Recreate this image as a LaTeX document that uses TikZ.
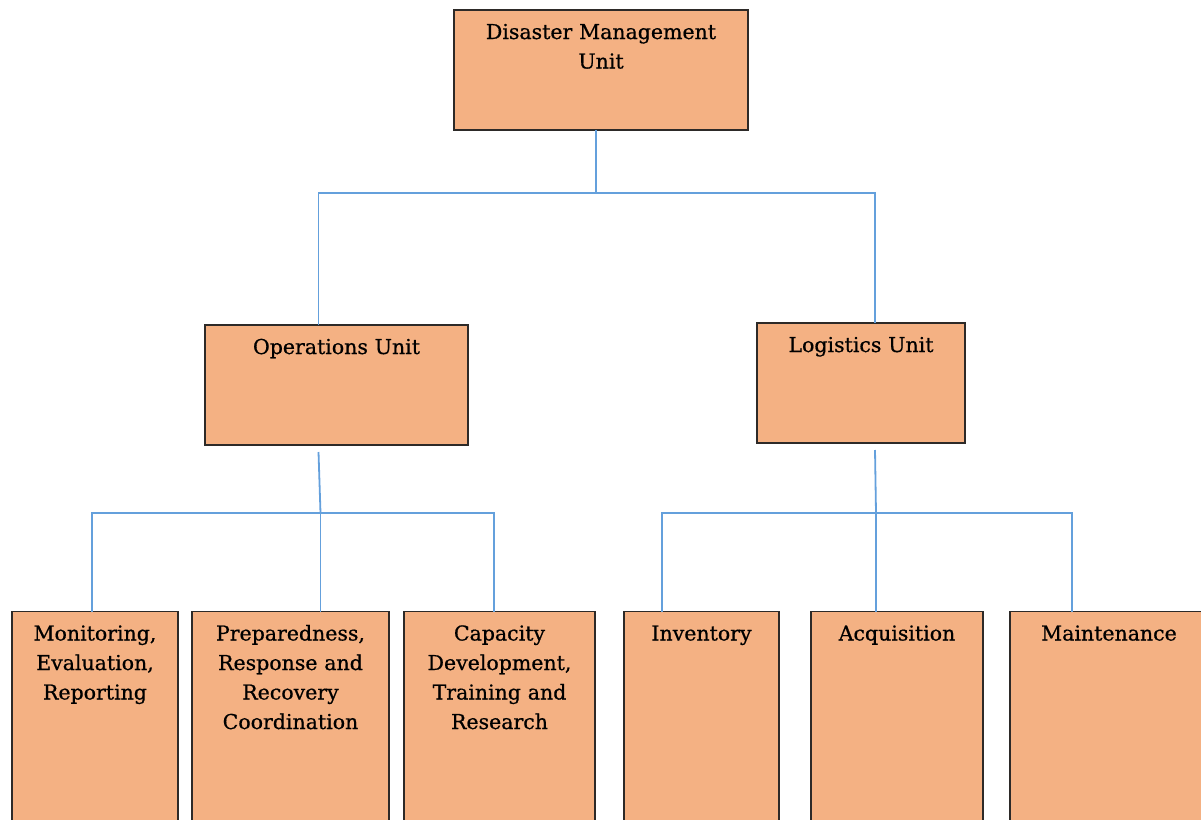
\documentclass[tikz,border=0pt]{standalone}
\usepackage{fontspec}
\setmainfont{DejaVu Serif}
\newfontfamily\unitfont[FakeBold=0.7]{DejaVu Serif}
\usepackage{tikz}
\usetikzlibrary{positioning}
\definecolor{unitfill}{RGB}{244,177,131}
\definecolor{unitdraw}{RGB}{45,42,40}
\definecolor{linkblue}{RGB}{100,160,220}
\tikzset{
  unitbox/.style={rectangle, draw=unitdraw, fill=unitfill, line width=1.6pt,
    align=center, inner xsep=0pt, inner ysep=0pt, outer sep=0pt,
    text height=29pt, text depth=#1,
    font=\unitfont\fontsize{20.5}{29.5}\selectfont},
  link/.style={draw=linkblue, line width=1.8pt}
}
\begin{document}
\begin{tikzpicture}[x=1pt, y=-1pt]
  \useasboundingbox (0,0) rectangle (1201,819);

  \node[unitbox=91pt, text width=294pt] (dmu) at (601,70) {Disaster Management\\Unit};
  \node[unitbox=91pt, text width=263pt] (ops) at (336.5,385) {Operations Unit};
  \node[unitbox=91pt, text width=208pt] (log) at (861,383) {Logistics Unit};

  \node[unitbox=191pt, text width=166pt] (mon) at (95,721.5) {Monitoring,\\Evaluation,\\Reporting};
  \node[unitbox=191pt, text width=197pt, right=14pt of mon] (prep) {Preparedness,\\Response and\\Recovery\\Coordination};
  \node[unitbox=191pt, text width=191pt, right=15pt of prep] (cap) {Capacity\\Development,\\Training and\\Research};
  \node[unitbox=191pt, text width=155pt, right=29pt of cap] (inv) {Inventory};
  \node[unitbox=191pt, text width=172pt, right=32pt of inv] (acq) {Acquisition};
  \node[unitbox=191pt, text width=198pt, right=27pt of acq] (maint) {Maintenance};

  % top level
  \draw[link] ([shift={(-5,0)}]dmu.south) -- ++(0,63) coordinate (topbus);
  \draw[link] ([shift={(-18,0)}]ops.north) |- (topbus) -| ([shift={(14,0)}]log.north);

  % operations
  \draw[link] ([shift={(-18,7)}]ops.south) -- ++(2,61) coordinate (opsbus);
  \draw[link] ([shift={(-3,0)}]mon.north) |- (opsbus) -| ([shift={(-5.5,0)}]cap.north);
  \draw[link] (opsbus) -- (opsbus |- prep.north);

  % logistics
  \draw[link] ([shift={(14,7)}]log.south) -- ++(1,63) coordinate (logbus);
  \draw[link] ([shift={(-39.5,0)}]inv.north) |- (logbus) -| ([shift={(-37,0)}]maint.north);
  \draw[link] (logbus) -- (logbus |- acq.north);
\end{tikzpicture}
\end{document}
